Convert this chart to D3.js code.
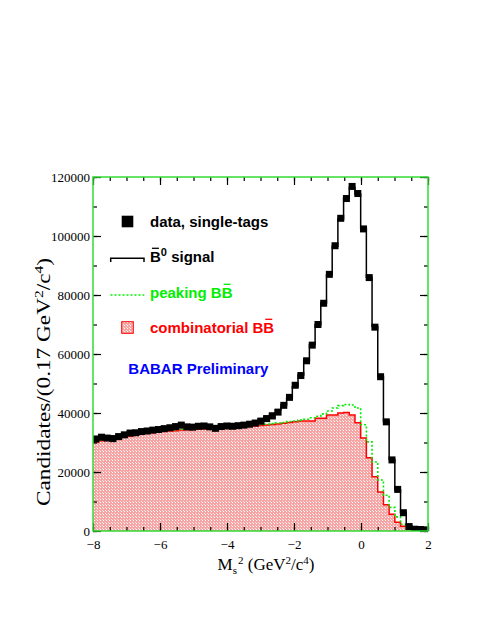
<!DOCTYPE html>
<html><head><meta charset="utf-8">
<script src="https://cdn.jsdelivr.net/npm/d3@7"></script>
<style>body{margin:0;background:#fff}</style>
</head><body>
<svg id="c" width="491" height="635" xmlns="http://www.w3.org/2000/svg"></svg>
<script>
// ---------------- data ----------------
const binStart = -8, binWidth = 0.17;
const dataCounts = [31200,31800,31500,31300,32000,32600,33200,33300,33700,33900,
  34200,34400,34700,35000,35400,35900,35300,35200,35500,35600,
  35300,34800,35400,35600,35500,35700,35900,36200,36600,37200,
  38100,39000,40300,42600,45300,49400,52700,57700,63000,70000,
  77200,87000,96700,106000,112700,116800,114400,102400,85900,69100,
  52300,37000,24100,14100,6200,1500,600,500,400];
const fitTotal = [31300,31600,31900,32200,32500,32800,33100,33400,33600,33900,
  34100,34300,34500,34700,34900,35100,35200,35300,35400,35500,
  35600,35700,35800,35900,36000,36200,36500,36900,37400,38100,
  38900,39900,41100,42700,45000,48900,52900,57800,63200,69900,
  77300,86800,96500,105800,112800,116400,114200,102600,86000,69300,
  52400,37200,24200,14000,6300,1800,600,450,350];
const peakingPlusComb = [30500,30900,31300,31400,31700,32100,32500,32800,33100,33400,
  33600,33800,34000,34200,34300,34500,34600,34700,34800,34900,
  35000,35100,35200,35300,35400,35500,35600,35800,35900,36100,
  36200,36400,36600,36800,37100,37300,37600,37900,38400,38900,
  39700,40700,41700,42500,42900,42700,41700,36000,30200,23400,
  17300,12100,8000,4800,2300,900,250,80,30];
const combinatorial = [30200,30600,31000,31000,31400,31800,32200,32500,32800,33100,
  33300,33500,33700,33900,34000,34200,34300,34400,34500,34600,
  34700,34800,34900,35000,35100,35200,35300,35500,35600,35800,
  35900,36100,36300,36500,36800,37000,37300,37300,37300,38200,
  38200,39300,39300,40000,40200,39300,36700,31500,24800,18400,
  13200,8900,5700,3000,1600,600,150,50,20];
const xMajorTicks = [-8,-6,-4,-2,0,2];
const xMinorTicks = d3.range(-8, 2.001, 0.5);
const yMajorTicks = [0,20000,40000,60000,80000,100000,120000];
const yMinorTicks = d3.range(0, 120001, 10000);
const legendLabels = ["data, single-tags", "B", "0", " signal", "peaking BB", "combinatorial BB", "BABAR Preliminary"];

// ---------------- layout ----------------
const svg = d3.select("#c");
const L = 93, R = 428, T = 177, B = 531;
const x = d3.scaleLinear().domain([-8, 2]).range([L, R]);
const y = d3.scaleLinear().domain([0, 120000]).range([B, T]);
const nb = dataCounts.length;
const edges = d3.range(nb + 1).map(i => binStart + i * binWidth);
const centers = d3.range(nb).map(i => binStart + (i + 0.5) * binWidth);
function stepPts(vals) {
  const p = vals.map((v, i) => [edges[i], v]);
  p.push([edges[nb], vals[nb - 1]]);
  return p;
}
const line = d3.line().x(d => x(d[0])).y(d => y(d[1])).curve(d3.curveStepAfter);
const area = d3.area().x(d => x(d[0])).y0(y(0)).y1(d => y(d[1])).curve(d3.curveStepAfter);

const defs = svg.append("defs");
defs.append("clipPath").attr("id", "clip").append("rect")
  .attr("x", L).attr("y", T).attr("width", R - L).attr("height", B - T);
const pat = defs.append("pattern").attr("id", "hatch").attr("patternUnits", "userSpaceOnUse")
  .attr("width", 3).attr("height", 3);
pat.append("rect").attr("width", 3).attr("height", 3).attr("fill", "#f7a4a4");
pat.append("rect").attr("x", 1).attr("y", 1).attr("width", 1).attr("height", 1).attr("fill", "#ffffff");
pat.append("rect").attr("x", 0).attr("y", 0).attr("width", 1).attr("height", 1).attr("fill", "#fde0e0");

const g = svg.append("g").attr("clip-path", "url(#clip)");
g.append("path").attr("d", area(stepPts(combinatorial))).attr("fill", "url(#hatch)");
g.append("path").attr("d", line(stepPts(combinatorial))).attr("fill", "none")
  .attr("stroke", "#ff0000").attr("stroke-width", 1.5);
g.append("path").attr("d", line(stepPts(peakingPlusComb))).attr("fill", "none")
  .attr("stroke", "#00ee00").attr("stroke-width", 1.6).attr("stroke-dasharray", "2,2");
g.append("path").attr("d", line(stepPts(fitTotal))).attr("fill", "none")
  .attr("stroke", "#000").attr("stroke-width", 1.5);
g.selectAll("rect.pt").data(dataCounts).join("rect").attr("class", "pt")
  .attr("x", (d, i) => x(centers[i]) - 3.5).attr("y", d => y(d) - 3.5)
  .attr("width", 7).attr("height", 7).attr("fill", "#000");

// ---------------- axes ----------------
function styleAxis(sel) {
  sel.select(".domain").remove();
  sel.selectAll(".tick line").attr("stroke", "#000").attr("stroke-width", 1.2);
}
const serif = "Liberation Serif, Times New Roman, serif";
svg.append("g").attr("transform", `translate(0,${B})`)
  .call(d3.axisBottom(x).tickValues(xMinorTicks).tickSize(-4).tickFormat("")).call(styleAxis);
svg.append("g").attr("transform", `translate(0,${T})`)
  .call(d3.axisTop(x).tickValues(xMinorTicks).tickSize(-4).tickFormat("")).call(styleAxis);
const xb = svg.append("g").attr("transform", `translate(0,${B})`)
  .call(d3.axisBottom(x).tickValues(xMajorTicks).tickSize(-8).tickPadding(9).tickFormat(d3.format("d")))
  .call(styleAxis);
xb.selectAll("text").attr("font-family", serif).attr("font-size", 13).attr("fill", "#000");
svg.append("g").attr("transform", `translate(0,${T})`)
  .call(d3.axisTop(x).tickValues(xMajorTicks).tickSize(-8).tickFormat("")).call(styleAxis);

svg.append("g").attr("transform", `translate(${L},0)`)
  .call(d3.axisLeft(y).tickValues(yMinorTicks).tickSize(-4).tickFormat("")).call(styleAxis);
svg.append("g").attr("transform", `translate(${R},0)`)
  .call(d3.axisRight(y).tickValues(yMinorTicks).tickSize(-4).tickFormat("")).call(styleAxis);
const yl = svg.append("g").attr("transform", `translate(${L},0)`)
  .call(d3.axisLeft(y).tickValues(yMajorTicks).tickSize(-8).tickPadding(3).tickFormat(d3.format("d")))
  .call(styleAxis);
yl.selectAll("text").attr("font-family", serif).attr("font-size", 13).attr("fill", "#000");
svg.append("g").attr("transform", `translate(${R},0)`)
  .call(d3.axisRight(y).tickValues(yMajorTicks).tickSize(-8).tickFormat("")).call(styleAxis);

// frame
svg.append("rect").attr("x", L).attr("y", T).attr("width", R - L).attr("height", B - T)
  .attr("fill", "none").attr("stroke", "#33dd33").attr("stroke-width", 1.5);

// axis titles
const xt = svg.append("text").attr("x", 266).attr("y", 570).attr("text-anchor", "middle")
  .attr("font-family", serif).attr("font-size", 17).attr("fill", "#000");
xt.append("tspan").text("M");
xt.append("tspan").attr("font-size", 11).attr("dy", 4).text("s");
xt.append("tspan").attr("font-size", 11).attr("dy", -10).attr("dx", 1).text("2");
xt.append("tspan").attr("dy", 6).text(" (GeV");
xt.append("tspan").attr("font-size", 11).attr("dy", -6).text("2");
xt.append("tspan").attr("dy", 6).text("/c");
xt.append("tspan").attr("font-size", 11).attr("dy", -6).text("4");
xt.append("tspan").attr("dy", 6).text(")");

const yt = svg.append("text").attr("transform", "translate(50,382) rotate(-90)")
  .attr("text-anchor", "middle").attr("font-family", serif).attr("font-size", 18).attr("fill", "#000")
  .attr("textLength", 248).attr("lengthAdjust", "spacingAndGlyphs");
yt.append("tspan").text("Candidates/(0.17 GeV");
yt.append("tspan").attr("font-size", 12).attr("dy", -7).text("2");
yt.append("tspan").attr("dy", 7).text("/c");
yt.append("tspan").attr("font-size", 12).attr("dy", -7).text("4");
yt.append("tspan").attr("dy", 7).text(")");

// ---------------- legend ----------------
const sans = "Liberation Sans, Arial, Helvetica, sans-serif";
const lg = svg.append("g").attr("font-family", sans).attr("font-weight", "bold").attr("font-size", 15);
function bar(textSel, idx, color, baseY) {
  const ext = textSel.node().getExtentOfChar(idx);
  const cx = ext.x + ext.width / 2;
  lg.append("line").attr("x1", cx - 3.5).attr("x2", cx + 3.5).attr("y1", baseY - 14).attr("y2", baseY - 14)
    .attr("stroke", color).attr("stroke-width", 1.3);
}
lg.append("rect").attr("x", 121.7).attr("y", 215.7).attr("width", 11.6).attr("height", 11.6).attr("fill", "#000");
lg.append("text").attr("x", 150).attr("y", 227.3).attr("fill", "#000").text(legendLabels[0]);

lg.append("path").attr("d", "M110.7,262V258.3H144V262").attr("fill", "none").attr("stroke", "#000").attr("stroke-width", 1.5);
const t2 = lg.append("text").attr("x", 150).attr("y", 262.3).attr("fill", "#000");
t2.append("tspan").text(legendLabels[1]);
t2.append("tspan").attr("font-size", 11).attr("dy", -6).text(legendLabels[2]);
t2.append("tspan").attr("dy", 6).text(legendLabels[3]);
bar(t2, 0, "#000", 262.3);

lg.append("line").attr("x1", 110.5).attr("x2", 144.3).attr("y1", 295).attr("y2", 295)
  .attr("stroke", "#00ee00").attr("stroke-width", 1.6).attr("stroke-dasharray", "2,2");
const t3 = lg.append("text").attr("x", 150).attr("y", 298.3).attr("fill", "#00ee00").text(legendLabels[4]);
bar(t3, 9, "#00ee00", 298.3);

lg.append("rect").attr("x", 121.7).attr("y", 321.7).attr("width", 11.6).attr("height", 11.6)
  .attr("fill", "url(#hatch)").attr("stroke", "#ff0000").attr("stroke-width", 1);
const t4 = lg.append("text").attr("x", 150).attr("y", 333.3).attr("fill", "#ff0000").text(legendLabels[5]);
bar(t4, 15, "#ff0000", 333.3);

lg.append("text").attr("x", 128.3).attr("y", 374.3).attr("fill", "#0000ff").text(legendLabels[6]);
</script>
</body></html>
